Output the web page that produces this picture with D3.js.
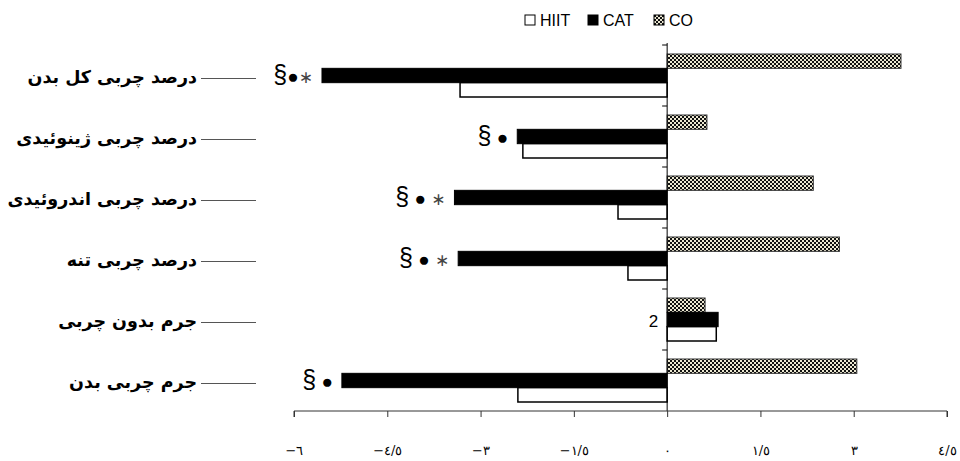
<!DOCTYPE html>
<html>
<head>
<meta charset="utf-8">
<script src="https://cdn.jsdelivr.net/npm/d3@7"></script>
<style>
  body { margin: 0; background: #fff; }
  svg { display: block; }
</style>
</head>
<body>
<div id="chart"></div>
<script>
// categories top to bottom
var categories = ["درصد چربی کل بدن", "درصد چربی ژینوئیدی", "درصد چربی اندروئیدی", "درصد چربی تنه", "جرم بدون چربی", "جرم چربی بدن"];
var series = ["CO", "CAT", "HIIT"];
var hiit = [-3.33, -2.32, -0.79, -0.63, 0.79, -2.4];
var cat = [-5.55, -2.41, -3.42, -3.36, 0.82, -5.23];
var co = [3.76, 0.64, 2.35, 2.77, 0.61, 3.05];
var marks = ["§●∗", "§ ●", "§ ● ∗", "§ ● ∗", "2", "§ ●"];
var xTicks = [-6, -4.5, -3, -1.5, 0, 1.5, 3, 4.5];
var xTickLabels = ["−٦", "−٤/٥", "−٣", "−١/٥", "٠", "١/٥", "٣", "٤/٥"];
var legendItems = ["HIIT", "CAT", "CO"];

var width = 960, height = 461;
var values = {HIIT: hiit, CAT: cat, CO: co};

var svg = d3.select("#chart").append("svg").attr("width", width).attr("height", height);

// checker pattern for CO
var defs = svg.append("defs");
var pat = defs.append("pattern").attr("id", "checker").attr("patternUnits", "userSpaceOnUse")
    .attr("width", 4).attr("height", 4);
pat.append("rect").attr("width", 4).attr("height", 4).attr("fill", "#ece8d2");
pat.append("rect").attr("width", 2).attr("height", 2).attr("fill", "#111");
pat.append("rect").attr("x", 2).attr("y", 2).attr("width", 2).attr("height", 2).attr("fill", "#111");

var x = d3.scaleLinear().domain([-6, 4.5]).range([294, 947]);
var y = d3.scaleBand().domain(categories).range([45, 411]).padding(0);
var yInner = d3.scaleBand().domain(series).range([9, y.bandwidth() - 9]).padding(0);

var fills = {HIIT: "#fff", CAT: "#000", CO: "url(#checker)"};

// bars
var groups = svg.append("g").selectAll("g").data(categories).enter().append("g")
    .attr("transform", function(d){ return "translate(0," + y(d) + ")"; });

groups.each(function(c, i){
    var g = d3.select(this);
    series.forEach(function(s){
        var v = values[s][i];
        g.append("rect")
            .attr("x", Math.min(x(0), x(v)))
            .attr("y", yInner(s))
            .attr("width", Math.abs(x(v) - x(0)))
            .attr("height", yInner.bandwidth())
            .attr("fill", fills[s])
            .attr("stroke", s === "CO" ? "#333" : "#000")
            .attr("stroke-width", s === "HIIT" ? 1.5 : 1);
    });
});

// significance marks beside the CAT bar
groups.append("text")
    .attr("x", function(c, i){ return Math.min(x(0), x(cat[i])) - 9; })
    .attr("y", function(){ return yInner("CAT") + yInner.bandwidth() / 2 + 7; })
    .attr("text-anchor", "end")
    .style("direction", "ltr").style("unicode-bidi", "bidi-override")
    .attr("font-family", "Liberation Sans, Arial, sans-serif")
    .each(function(c, i){
        var t = d3.select(this);
        marks[i].split("").forEach(function(ch){
            var size = ch === "§" ? 25 : (ch === "∗" ? 17 : (ch === "2" ? 17 : 19));
            t.append("tspan").text(ch).attr("font-size", size)
                .attr("font-family", ch === "∗" ? "DejaVu Sans, sans-serif" : null)
                .attr("fill", ch === "∗" ? "#444" : "#000");
        });
    });

// vertical zero axis with ticks at band edges
svg.append("line").attr("x1", x(0)).attr("x2", x(0)).attr("y1", 43).attr("y2", 411)
    .attr("stroke", "#000").attr("stroke-width", 1);
var edges = categories.map(function(c){ return y(c); });
svg.append("g").selectAll("line").data(edges).enter().append("line")
    .attr("x1", x(0) - 5).attr("x2", x(0)).attr("y1", function(d){ return d; }).attr("y2", function(d){ return d; })
    .attr("stroke", "#000");

// bottom axis
var xAxis = d3.axisBottom(x).tickValues(xTicks).tickSize(6)
    .tickFormat(function(d, i){ return xTickLabels[i]; });
var ax = svg.append("g").attr("transform", "translate(0,411)").call(xAxis);
ax.select(".domain").attr("stroke", "#333").attr("d", "M" + x(-6) + ",6V0H" + x(4.5) + "V6");
ax.selectAll(".tick line").attr("stroke", "#333");
ax.selectAll(".tick text")
    .attr("y", 35)
    .style("direction", "ltr").style("unicode-bidi", "bidi-override")
    .attr("font-family", "DejaVu Serif, serif").attr("font-size", 13).attr("fill", "#000");

// category labels and leader lines
var labels = svg.append("g").selectAll("g").data(categories).enter().append("g")
    .attr("transform", function(d){ return "translate(0," + (y(d) + y.bandwidth() / 2) + ")"; });
labels.append("text")
    .attr("x", 197).attr("y", 7)
    .attr("text-anchor", "end")
    .attr("font-family", "DejaVu Sans, sans-serif").attr("font-weight", "bold").attr("font-size", 17.5)
    .text(function(d){ return d; });
labels.append("line").attr("x1", 201).attr("x2", 256).attr("y1", 3).attr("y2", 3)
    .attr("stroke", "#555").attr("stroke-width", 1);

// legend
var legendX = [525, 588, 654];
var legend = svg.append("g").selectAll("g").data(legendItems).enter().append("g")
    .attr("transform", function(d, i){ return "translate(" + legendX[i] + ",15)"; });
legend.append("rect").attr("width", 10).attr("height", 10)
    .attr("fill", function(d){ return fills[d]; }).attr("stroke", "#000").attr("stroke-width", 1);
legend.append("text").attr("x", 15).attr("y", 10.5)
    .attr("font-family", "Liberation Sans, Arial, sans-serif").attr("font-size", 16)
    .text(function(d){ return d; });
</script>
</body>
</html>
